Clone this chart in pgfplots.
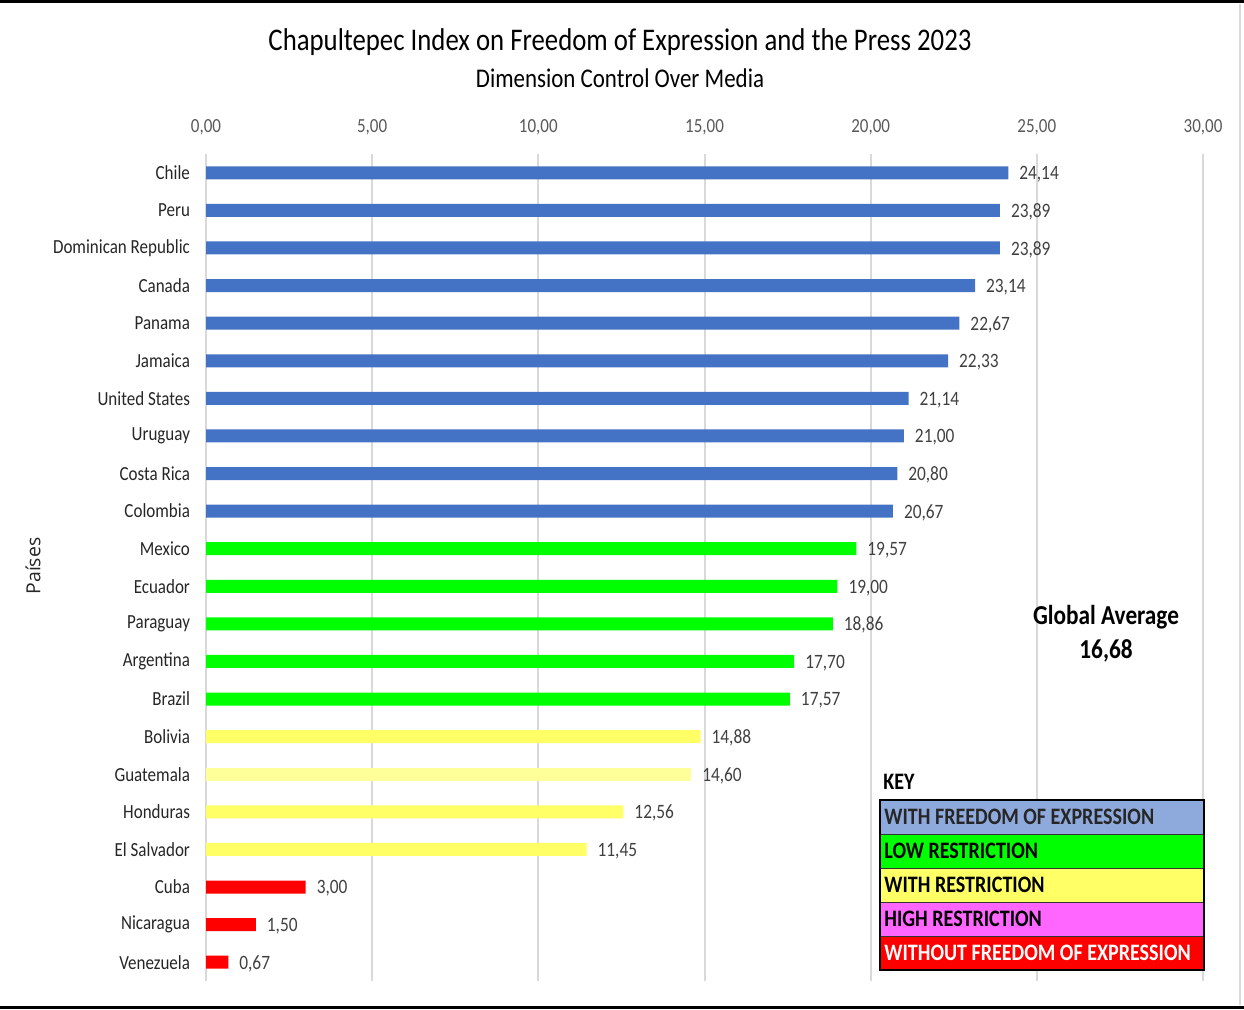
\documentclass[border=0pt]{standalone}
\usepackage{pgfplots}
\pgfplotsset{compat=1.18}
\usepackage{fontspec}
\setmainfont{Carlito}[FakeStretch=0.85]
\newfontfamily\ysans{Open Sans}
\definecolor{barblue}{HTML}{4472C4}
\definecolor{bargreen}{HTML}{00FF00}
\definecolor{baryellow}{HTML}{FFFF66}
\definecolor{barlyellow}{HTML}{FFFF99}
\definecolor{barred}{HTML}{FF0000}
\definecolor{keyblue}{HTML}{8EA9DB}
\definecolor{keymag}{HTML}{FF66FF}
\definecolor{gridgray}{HTML}{D9D9D9}
\definecolor{tickgray}{HTML}{595959}
\definecolor{labgray}{HTML}{404040}
\definecolor{catgray}{HTML}{262626}
\begin{document}
\begin{tikzpicture}
\path[use as bounding box] (0,0) rectangle (622pt,504.5pt);
\begin{axis}[
  at={(103pt,14pt)}, anchor=south west, scale only axis,
  width=498.5pt, height=413.5pt,
  xmin=0, xmax=30, ymin=-0.5, ymax=21.5, y dir=reverse,
  xtick={0,5,...,30}, ytick={0,...,21},
  yticklabels={Chile,Peru,Dominican Republic,Canada,Panama,Jamaica,United States,Uruguay,Costa Rica,Colombia,Mexico,Ecuador,Paraguay,Argentina,Brazil,Bolivia,Guatemala,Honduras,El Salvador,Cuba,Nicaragua,Venezuela},
  xticklabel pos=right,
  axis line style={draw=none}, major tick length=0pt,
  xmajorgrids, grid style={draw=gridgray, line width=1pt},
  xbar, bar width=6.5pt, bar shift=0pt,
  /pgf/number format/use comma,
  /pgf/number format/fixed,
  /pgf/number format/fixed zerofill,
  /pgf/number format/precision=2,
  /pgf/number format/assume math mode=true,
  xticklabel style={font=\fontsize{10}{11}\selectfont, text=tickgray, yshift=6pt},
  yticklabel style={font=\fontsize{10}{11}\selectfont, text=catgray, xshift=-4.5pt},
  nodes near coords,
  every node near coord/.append style={anchor=west, font=\fontsize{10.2}{11}\selectfont, text=labgray, xshift=2pt, yshift=-0.7pt},
  clip=false,
]
\addplot[fill=barblue, draw=none] coordinates {(24.14,0) (23.89,1) (23.89,2) (23.14,3) (22.67,4) (22.33,5) (21.14,6) (21.00,7) (20.80,8) (20.67,9)};
\addplot[fill=bargreen, draw=none] coordinates {(19.57,10) (19.00,11) (18.86,12) (17.70,13) (17.57,14)};
\addplot[fill=baryellow, draw=none] coordinates {(14.88,15) (12.56,17) (11.45,18)};
\addplot[fill=barlyellow, draw=none] coordinates {(14.60,16)};
\addplot[fill=barred, draw=none] coordinates {(3.00,19) (1.50,20) (0.67,21)};
\end{axis}
\begin{scope}[x=0.5pt, y=-0.5pt, yshift=504.5pt]
  \draw[black, line width=1.5pt] (0,2) -- (1244,2);
  \draw[black, line width=1.5pt] (0,1007) -- (1244,1007);
  \draw[gridgray, line width=1pt] (1240,4) -- (1240,1005);
  \node[font=\fontsize{15.75}{17}\selectfont] at (620,42) {Chapultepec Index on Freedom of Expression and the Press 2023};
  \node[font=\fontsize{13.5}{15}\selectfont] at (620,78) {Dimension Control Over Media};
  \node[font=\ysans\fontsize{9.7}{10}\selectfont, rotate=90, text=catgray] at (33,566) {Países};
  \node[font=\bfseries\fontsize{13.7}{15}\selectfont] at (1106,617) {Global Average};
  \node[font=\bfseries\fontsize{13.7}{15}\selectfont] at (1106,651) {16,68};
  \node[font=\bfseries\fontsize{11.8}{13}\selectfont, anchor=west, inner sep=0pt] at (883,782) {KEY};
  \foreach \c/\t/\tc [count=\i from 0] in {keyblue/WITH FREEDOM OF EXPRESSION/catgray, bargreen/LOW RESTRICTION/black, baryellow/WITH RESTRICTION/black, keymag/HIGH RESTRICTION/black, barred/WITHOUT FREEDOM OF EXPRESSION/white} {
    \filldraw[fill=\c, draw=black!80, line width=0.5pt] (880,800+34*\i) rectangle (1204,834+34*\i);
    \node[font=\bfseries\fontsize{11.8}{13}\selectfont, anchor=west, inner sep=0pt, text=\tc] at (884,817+34*\i) {\t};
  }
  \draw[black, line width=1.2pt] (880,800) rectangle (1204,970);
\end{scope}
\end{tikzpicture}
\end{document}
